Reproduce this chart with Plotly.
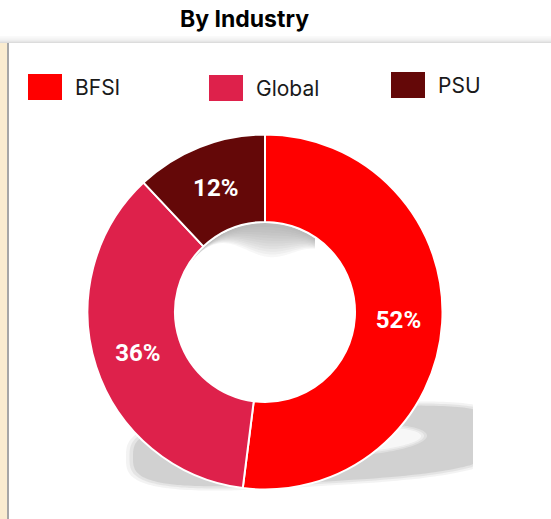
"""
Donut chart: share of work by industry.
"""

import numpy as np
import plotly.graph_objects as go

W, H = 551, 519

# Data
industries = ["BFSI", "Global", "PSU"]
shares = [52, 36, 12]
colors = ["#FF0000", "#DE214B", "#640808"]

# Layout helpers (pixel positions, y measured from top)
cx, cy, r_out, r_in = 265, 312, 177.5, 90
legend_boxes = [(28, 74, 62, 100), (209, 75, 243, 101), (391, 72, 425, 98)]


def path_from(xs, ys):
    pts = " L ".join(f"{x:.1f},{y:.1f}" for x, y in zip(xs, ys))
    return f"M {pts} Z"


def superellipse(x0, y0, a, b, n=4, skew=0.0, k=200):
    t = np.linspace(0, 2 * np.pi, k)
    c, s = np.cos(t), np.sin(t)
    xs = x0 + a * np.sign(c) * np.abs(c) ** (2 / n)
    ys = y0 + b * np.sign(s) * np.abs(s) ** (2 / n) - skew * (xs - x0)
    return xs, ys


fig = go.Figure()

fig.add_trace(
    go.Pie(
        labels=industries,
        values=shares,
        hole=r_in / r_out,
        sort=False,
        direction="clockwise",
        rotation=0,
        marker=dict(colors=colors, line=dict(color="white", width=2)),
        texttemplate="<b>%{percent:.0%}</b>",
        textposition="inside",
        insidetextorientation="horizontal",
        insidetextfont=dict(color="white", size=24, family="Roboto"),
        domain=dict(
            x=[(cx - r_out) / W, (cx + r_out) / W],
            y=[1 - (cy + r_out) / H, 1 - (cy - r_out) / H],
        ),
        showlegend=False,
        hoverinfo="label+percent",
    )
)

shapes = []

# Page chrome: beige strip on the left and shadowed top edge
shapes.append(dict(type="rect", xref="x", yref="y", x0=0, x1=7, y0=43, y1=H,
                   fillcolor="#FAECD0", line_width=0, layer="below"))
shapes.append(dict(type="line", xref="x", yref="y", x0=8, x1=8, y0=43, y1=H,
                   line=dict(color="#A6A6A6", width=2), layer="below"))
for i, op in enumerate([0.04, 0.06, 0.09, 0.13, 0.18, 0.25, 0.35]):
    y = 36.5 + i
    shapes.append(dict(type="line", xref="x", yref="y", x0=0, x1=W, y0=y, y1=y,
                       line=dict(color="#9E9E9E", width=1), opacity=op, layer="below"))

# Perspective shadow under the donut (blurred by stacking)
for grow, op in [(7, 0.2), (3.5, 0.3), (0, 0.6)]:
    ex, ey = superellipse(318, 446, 185 + grow, 36 + grow * 0.6, n=3.2, skew=0.06)
    ex = np.clip(ex, 126, 473)
    shapes.append(dict(type="path", xref="x", yref="y", path=path_from(ex, ey),
                       fillcolor="#C4C4C4", line_width=0, opacity=op, layer="below"))
for grow, op in [(6, 0.3), (3, 0.4), (0, 0.6)]:
    hx, hy = superellipse(355, 440, 66 + grow, 12 + grow * 0.6, n=2, skew=0.06)
    shapes.append(dict(type="path", xref="x", yref="y", path=path_from(hx, hy),
                       fillcolor="white", line_width=0, opacity=op, layer="below"))

# Soft inner shadow at the top of the hole
xs = np.linspace(cx - 72, cx + 50, 100)
top = cy - np.sqrt(np.maximum(r_in ** 2 - (xs - cx) ** 2, 0)) + 1
for depth in np.linspace(34, 4, 12):
    thick = depth * np.exp(-((xs - (cx + 5)) / 42) ** 2)
    px = np.concatenate([xs, xs[::-1]])
    py = np.concatenate([top, (top + thick)[::-1]])
    shapes.append(dict(type="path", xref="x", yref="y", path=path_from(px, py),
                       fillcolor="#8C8C8C", line_width=0, opacity=0.07, layer="below"))

# Custom legend
annotations = []
for name, color, (x0, y0, x1, y1) in zip(industries, colors, legend_boxes):
    shapes.append(dict(type="rect", xref="x", yref="y", x0=x0, x1=x1, y0=y0, y1=y1,
                       fillcolor=color, line_width=0))
    annotations.append(dict(x=x1 + 11, y=(y0 + y1) / 2, xref="x", yref="y",
                            text=name, showarrow=False, xanchor="left", yanchor="middle",
                            font=dict(family="Inter", size=21, color="#1A1A1A")))

annotations.append(dict(x=244, y=19, xref="x", yref="y", text="<b>By Industry</b>",
                        showarrow=False, xanchor="center", yanchor="middle",
                        font=dict(family="Inter", size=23, color="black")))

fig.update_layout(
    width=W,
    height=H,
    margin=dict(l=0, r=0, t=0, b=0),
    paper_bgcolor="white",
    plot_bgcolor="rgba(0,0,0,0)",
    xaxis=dict(range=[0, W], visible=False, fixedrange=True, domain=[0, 1]),
    yaxis=dict(range=[H, 0], visible=False, fixedrange=True, domain=[0, 1]),
    shapes=shapes,
    annotations=annotations,
)

fig.write_html(
    "out.html",
    config={"displayModeBar": False},
    post_script="document.body.style.margin = '0';",
)
